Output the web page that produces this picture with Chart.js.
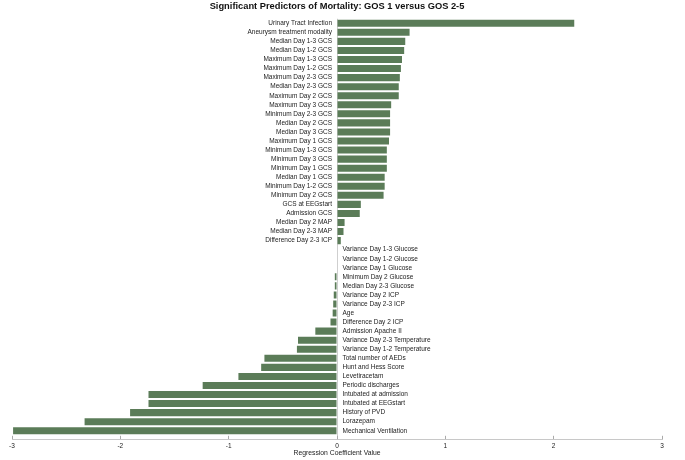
<!DOCTYPE html>
<html lang="en">
<head>
    <meta charset="UTF-8">
    <title>Significant Predictors of Mortality</title>
    <script src="https://cdn.jsdelivr.net/npm/chart.js"></script>
    <style>
        html, body { margin: 0; padding: 0; background: #fff; }
        .chart-container { position: relative; width: 685px; height: 460px; }
    </style>
</head>
<body>
    <div class="chart-container">
        <canvas id="myChart"></canvas>
    </div>
    <script type="text/javascript">
        // predictors, top to bottom
        const predictors = [
            "Urinary Tract Infection", "Aneurysm treatment modality",
            "Median Day 1-3 GCS", "Median Day 1-2 GCS", "Maximum Day 1-3 GCS",
            "Maximum Day 1-2 GCS", "Maximum Day 2-3 GCS", "Median Day 2-3 GCS",
            "Maximum Day 2 GCS", "Maximum Day 3 GCS", "Minimum Day 2-3 GCS",
            "Median Day 2 GCS", "Median Day 3 GCS", "Maximum Day 1 GCS",
            "Minimum Day 1-3 GCS", "Minimum Day 3 GCS", "Minimum Day 1 GCS",
            "Median Day 1 GCS", "Minimum Day 1-2 GCS", "Minimum Day 2 GCS",
            "GCS at EEGstart", "Admission GCS", "Median Day 2 MAP",
            "Median Day 2-3 MAP", "Difference Day 2-3 ICP",
            "Variance Day 1-3 Glucose", "Variance Day 1-2 Glucose",
            "Variance Day 1 Glucose", "Minimum Day 2 Glucose",
            "Median Day 2-3 Glucose", "Variance Day 2 ICP", "Variance Day 2-3 ICP",
            "Age", "Difference Day 2 ICP", "Admission Apache II",
            "Variance Day 2-3 Temperature", "Variance Day 1-2 Temperature",
            "Total number of AEDs", "Hunt and Hess Score", "Levetiracetam",
            "Periodic discharges", "Intubated at admission", "Intubated at EEGstart",
            "History of PVD", "Lorazepam", "Mechanical Ventilation"
        ];
        // regression coefficients
        const coefficients = [
            2.19, 0.67,
            0.63, 0.62, 0.60,
            0.59, 0.58, 0.57,
            0.57, 0.50, 0.49,
            0.49, 0.49, 0.48,
            0.46, 0.46, 0.46,
            0.44, 0.44, 0.43,
            0.22, 0.21, 0.07,
            0.06, 0.035,
            0, 0,
            0, -0.02,
            -0.02, -0.03, -0.035,
            -0.04, -0.06, -0.20,
            -0.36, -0.37,
            -0.67, -0.70, -0.91,
            -1.24, -1.74, -1.74,
            -1.91, -2.33, -2.99
        ];
        const xTicks = [-3, -2, -1, 0, 1, 2, 3];

        const barColor = '#5b7c58';
        const labelFont = '6.5px "Liberation Sans", Arial, sans-serif';

        // names sit beside the zero line: left of positive bars, right of negative ones
        const predictorLabels = {
            id: 'predictorLabels',
            afterDatasetsDraw(chart) {
                const ctx = chart.ctx;
                const xs = chart.scales.x;
                const ys = chart.scales.y;
                const x0 = xs.getPixelForValue(0);
                ctx.save();
                ctx.font = labelFont;
                ctx.fillStyle = '#222';
                ctx.textBaseline = 'middle';
                for (let i = 0; i < predictors.length; i++) {
                    const y = ys.getPixelForValue(i);
                    if (coefficients[i] > 0) {
                        ctx.textAlign = 'right';
                        ctx.fillText(predictors[i], x0 - 5, y);
                    } else {
                        ctx.textAlign = 'left';
                        ctx.fillText(predictors[i], x0 + 5.5, y);
                    }
                }
                ctx.restore();
            }
        };

        const ctx = document.getElementById('myChart').getContext('2d');
        const myChart = new Chart(ctx, {
            type: 'bar',
            data: {
                labels: predictors,
                datasets: [{
                    label: 'Regression coefficient',
                    data: coefficients.map((v, i) => ({ x: v, y: i })),
                    backgroundColor: barColor,
                    borderWidth: 0,
                    barPercentage: 0.78,
                    categoryPercentage: 1.0
                }]
            },
            options: {
                indexAxis: 'y',
                responsive: true,
                maintainAspectRatio: false,
                animation: false,
                layout: {
                    padding: { left: 12, right: 23, top: 0, bottom: 0 }
                },
                plugins: {
                    legend: { display: false },
                    tooltip: { enabled: false },
                    title: {
                        display: true,
                        text: 'Significant Predictors of Mortality: GOS 1 versus GOS 2-5',
                        color: '#111',
                        font: { family: '"Liberation Sans", Arial, sans-serif', size: 9.3, weight: 'bold', lineHeight: 1.2 },
                        padding: { top: 1, bottom: 6.6 }
                    }
                },
                scales: {
                    x: {
                        type: 'linear',
                        min: -3,
                        max: 3,
                        afterBuildTicks: (axis) => {
                            axis.ticks = xTicks.map(v => ({ value: v }));
                        },
                        grid: {
                            drawOnChartArea: true,
                            color: (c) => (c.tick && c.tick.value === 0) ? '#cfcfcf' : 'rgba(0,0,0,0)',
                            tickColor: '#aaa',
                            tickLength: -4,
                            lineWidth: 1
                        },
                        border: { display: true, color: '#c8c8c8', width: 1 },
                        ticks: {
                            color: '#222',
                            padding: 7.3,
                            font: { family: '"Liberation Sans", Arial, sans-serif', size: 6.5, lineHeight: 1 }
                        },
                        title: {
                            display: true,
                            text: 'Regression Coefficient Value',
                            color: '#222',
                            font: { family: '"Liberation Sans", Arial, sans-serif', size: 6.8, lineHeight: 1 },
                            padding: { top: -7.3, bottom: 3.6 }
                        }
                    },
                    y: {
                        type: 'linear',
                        reverse: true,
                        offset: false,
                        grace: 0,
                        min: -0.5,
                        max: 46,
                        display: false
                    }
                }
            },
            plugins: [predictorLabels]
        });
    </script>
</body>
</html>
